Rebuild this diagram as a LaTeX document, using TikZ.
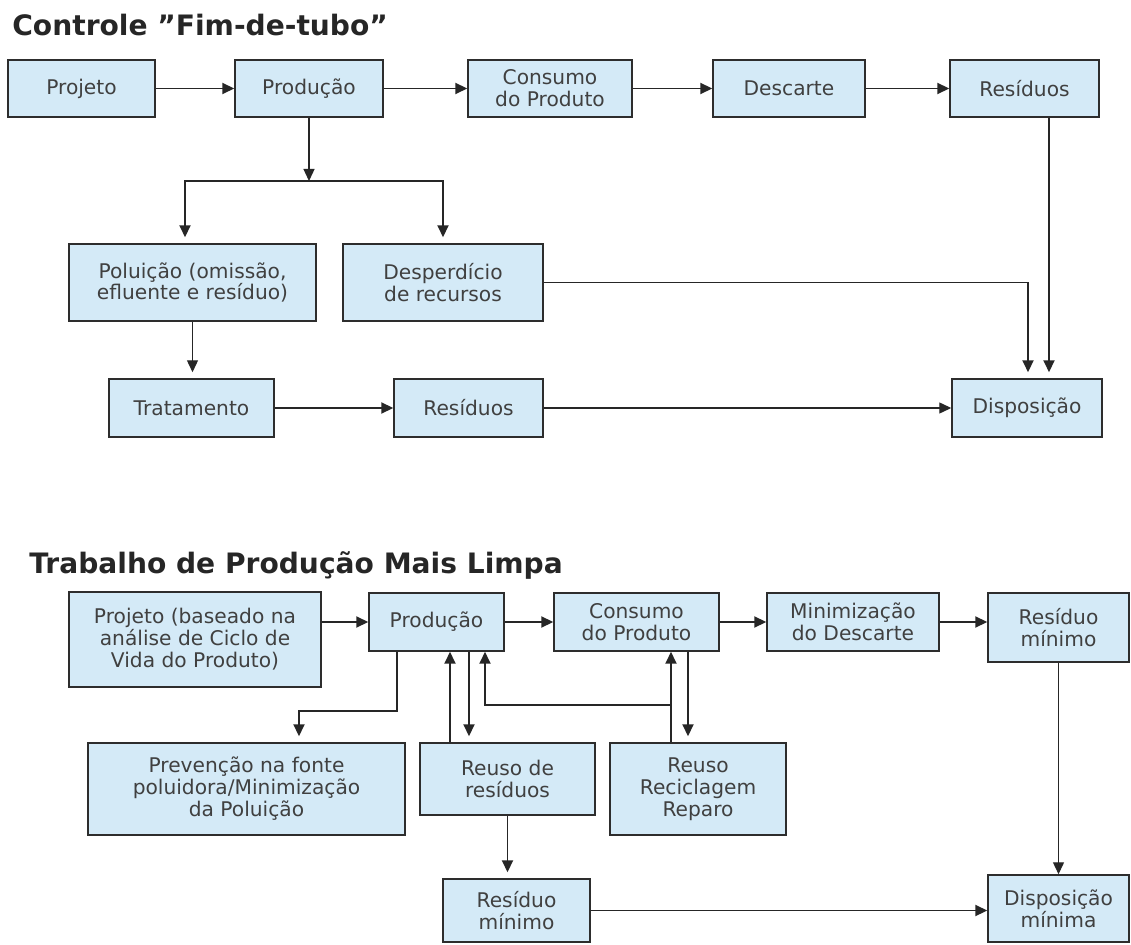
\documentclass[tikz,border=0pt]{standalone}
\usepackage{fontspec}
\setmainfont{DejaVu Sans}
\usetikzlibrary{arrows.meta}
\definecolor{boxfill}{RGB}{212,234,247}
\definecolor{boxline}{RGB}{45,45,45}
\definecolor{boxtext}{RGB}{64,64,64}

\begin{document}
\begin{tikzpicture}[x=0.02cm,y=-0.02cm,
  box/.style={draw=boxline, line width=0.85pt, fill=boxfill, text=boxtext, align=center, inner sep=0pt, font=\fontsize{11.5}{12.5}\selectfont},
  arr/.style={-{Triangle[length=0.24cm,width=0.22cm]}, line width=1.1pt, draw=black!85},
  thinarr/.style={arr, line width=0.75pt},
  gap/.style={shorten >=0.12cm},
  title/.style={anchor=base west, inner sep=0pt, font=\fontsize{16}{18}\bfseries\selectfont, text=black!85}]
\path[fill=white] (0,0) rectangle (1131,945);
\useasboundingbox (0,0) rectangle (1131,945);

\node[title] (t1) at (12,36) {Controle ”Fim-de-tubo”};
\node[box, minimum width=2.94cm, minimum height=1.14cm] (proj) at (81.5,88.5) {Projeto};
\node[box, minimum width=2.96cm, minimum height=1.14cm] (prod) at (309,88.5) {Produção};
\node[box, minimum width=3.28cm, minimum height=1.14cm] (cons) at (550,88.5) {Consumo\\do Produto};
\node[box, minimum width=3.04cm, minimum height=1.14cm] (desc) at (789,88.5) {Descarte};
\node[box, minimum width=2.98cm, minimum height=1.14cm] (resA) at (1024.5,88.5) {Resíduos};
\node[box, minimum width=4.94cm, minimum height=1.54cm] (polu) at (192.5,282.5) {Poluição (omissão,\\efluente e resíduo)};
\node[box, minimum width=4.0cm, minimum height=1.54cm] (desp) at (443,282.5) {Desperdício\\de recursos};
\node[box, minimum width=3.3cm, minimum height=1.16cm] (trat) at (191.5,408) {Tratamento};
\node[box, minimum width=2.98cm, minimum height=1.16cm] (resB) at (468.5,408) {Resíduos};
\node[box, minimum width=3.0cm, minimum height=1.16cm] (disp) at (1027,408) {Disposição};

\draw[arr] (proj) -- (prod);
\draw[arr] (prod) -- (cons);
\draw[arr] (cons) -- (desc);
\draw[arr] (desc) -- (resA);
\coordinate (split) at (309,181);
\draw[thinarr] (prod) -- (split);
\draw[arr,gap] (split) -| ([xshift=-0.15cm]polu.north);
\draw[arr,gap] (split) -| (desp.north);
\draw[arr,gap] (desp) -| ([xshift=0.02cm]disp.north);
\coordinate (dropB) at ([xshift=0.44cm]disp.north);
\draw[arr,gap] (dropB |- resA.south) -- (dropB);
\draw[thinarr,gap] (polu.south) -- (polu.south |- trat.north);
\draw[arr] (trat) -- (resB);
\draw[thinarr] (resB) -- (disp);

\node[title] (t2) at (29,573) {Trabalho de Produção Mais Limpa};
\node[box, minimum width=5.04cm, minimum height=1.9cm] (proj2) at (195,639.5) {Projeto (baseado na\\análise de Ciclo de\\Vida do Produto)};
\node[box, minimum width=2.7cm, minimum height=1.16cm] (prod2) at (436.5,622) {Produção};
\node[box, minimum width=3.3cm, minimum height=1.16cm] (cons2) at (636.5,622) {Consumo\\do Produto};
\node[box, minimum width=3.44cm, minimum height=1.16cm] (mini) at (853,622) {Minimização\\do Descarte};
\node[box, minimum width=2.82cm, minimum height=1.38cm] (resmin) at (1058.5,627.5) {Resíduo\\mínimo};
\node[box, minimum width=6.34cm, minimum height=1.84cm] (prev) at (246.5,789) {Prevenção na fonte\\poluidora/Minimização\\da Poluição};
\node[box, minimum width=3.5cm, minimum height=1.44cm] (reuso) at (507.5,779) {Reuso de\\resíduos};
\node[box, minimum width=3.52cm, minimum height=1.84cm] (recic) at (698,789) {Reuso\\Reciclagem\\Reparo};
\node[box, minimum width=2.94cm, minimum height=1.26cm] (resmin2) at (516.5,910.5) {Resíduo\\mínimo};
\node[box, minimum width=2.82cm, minimum height=1.34cm] (dispmin) at (1058.5,908.5) {Disposição\\mínima};

\draw[arr] (proj2.east |- prod2) -- (prod2);
\draw[arr] (prod2) -- (cons2);
\draw[arr] (cons2) -- (mini);
\draw[arr] (mini) -- (mini -| resmin.west);
\draw[arr,gap] ([xshift=-0.79cm]prod2.south) -- ++(0,59) -| ([xshift=1.05cm]prev.north);
\coordinate (upA) at ([xshift=0.27cm]prod2.south);
\coordinate (dnA) at ([xshift=0.65cm]prod2.south);
\coordinate (upC) at ([xshift=0.97cm]prod2.south);
\coordinate (upB) at ([xshift=0.69cm]cons2.south);
\coordinate (dnB) at ([xshift=1.03cm]cons2.south);
\draw[arr] (upA |- reuso.north) -- (upA);
\draw[arr,gap] (dnA) -- (dnA |- reuso.north);
\draw[arr] (upB |- recic.north) -- (upB);
\draw[arr] ([yshift=-1.06cm]upB) -| (upC);
\draw[arr,gap] (dnB) -- (dnB |- recic.north);
\draw[arr,gap] (reuso.south) -- (reuso.south |- resmin2.north);
\draw[arr] (resmin2) -- (resmin2 -| dispmin.west);
\draw[thinarr] (resmin) -- (dispmin);
\end{tikzpicture}
\end{document}
